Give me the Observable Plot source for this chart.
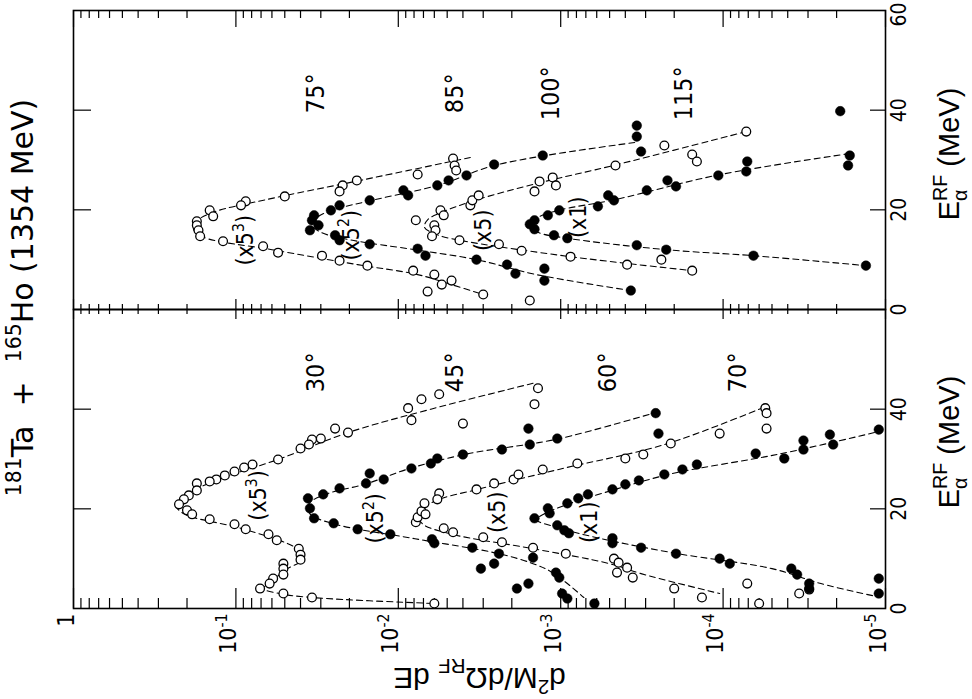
<!DOCTYPE html>
<html><head><meta charset="utf-8">
<script src="https://cdn.jsdelivr.net/npm/d3@7"></script>
<script src="https://cdn.jsdelivr.net/npm/@observablehq/plot@0.6"></script>
<style>body{margin:0;background:#fff}</style>
</head><body><div id="chart"></div>
<script>
// ---- data: [E_alpha (MeV), d2M/dOmega dE (scaled as drawn)] ----
const pts30 = [[44.2,1.38e-3],[41.0,1.45e-3],[43.0,5.6e-3],[42.0,7.2e-3],[40.2,8.7e-3],[37.8,8.3e-3],[37.1,4.0e-3],[36.1,2.45e-2],[35.3,2.04e-2],[34.1,3.0e-2],[33.9,3.4e-2],[32.9,3.55e-2],[32.1,4.0e-2],[29.9,5.5e-2],[28.9,7.9e-2],[28.3,8.9e-2],[27.5,0.102],[26.7,0.117],[25.9,0.132],[25.5,0.145],[25.1,0.174],[23.7,0.174],[22.7,0.195],[21.9,0.209],[20.9,0.224],[19.7,0.200],[18.9,0.186],[17.9,0.145],[16.9,0.102],[15.9,8.7e-2],[14.9,6.3e-2],[13.7,5.6e-2],[12.0,4.1e-2],[10.8,4.0e-2],[9.8,4.0e-2],[9.0,5.1e-2],[8.0,5.1e-2],[6.8,5.1e-2],[6.0,5.9e-2],[5.0,6.2e-2],[4.0,7.1e-2],[3.0,5.1e-2],[2.2,3.4e-2],[1.0,6.0e-3]];
const pts45 = [[22.1,3.6e-2],[20.1,3.5e-2],[18.1,3.3e-2],[22.9,2.9e-2],[24.1,2.3e-2],[25.1,1.58e-2],[27.1,1.5e-2],[25.9,1.23e-2],[28.1,8.3e-3],[29.1,6.3e-3],[30.1,5.75e-3],[30.9,4.0e-3],[31.9,2.3e-3],[32.9,1.55e-3],[34.1,1.05e-3],[36.1,1.58e-3],[39.2,2.6e-4],[35.1,2.5e-4],[17.1,2.5e-2],[15.9,1.78e-2],[14.9,1.12e-2],[13.9,6.2e-3],[13.1,6.0e-3],[12.2,3.5e-3],[11.0,2.4e-3],[10.2,1.48e-3],[9.0,2.57e-3],[8.0,3.1e-3],[7.2,1.07e-3],[6.2,1.02e-3],[5.0,1.58e-3],[4.0,1.86e-3],[3.0,9.8e-4],[2.0,9.1e-4],[1.0,6.2e-4]];
const pts60 = [[17.3,7.8e-3],[18.3,7.6e-3],[19.5,7.2e-3],[21.1,6.9e-3],[18.9,6.8e-3],[23.1,5.6e-3],[21.9,5.75e-3],[23.9,3.3e-3],[25.1,2.57e-3],[25.9,1.95e-3],[26.9,1.82e-3],[27.9,1.29e-3],[29.1,7.9e-4],[30.1,4.0e-4],[30.9,3.1e-4],[33.1,2.1e-4],[35.1,1.05e-4],[40.2,5.5e-5],[39.2,5.4e-5],[36.1,5.4e-5],[16.1,5.25e-3],[15.3,4.6e-3],[14.3,3.0e-3],[13.3,2.3e-3],[12.2,1.48e-3],[11.0,9.3e-4],[10.0,4.7e-4],[9.2,4.4e-4],[8.2,3.9e-4],[7.2,4.5e-4],[6.2,3.6e-4],[5.0,7.1e-5],[4.0,2.0e-4],[3.8,2.95e-5],[3.0,3.4e-5],[2.2,1.35e-4],[1.0,6.0e-5]];
const pts70 = [[18.1,1.45e-3],[20.1,1.2e-3],[19.1,1.17e-3],[21.1,9.1e-4],[22.1,7.8e-4],[22.9,6.8e-4],[23.9,4.8e-4],[24.9,4.0e-4],[25.7,3.3e-4],[26.9,2.3e-4],[27.9,1.78e-4],[28.9,1.45e-4],[31.1,6.3e-5],[30.1,4.2e-5],[33.7,3.2e-5],[31.9,3.2e-5],[34.9,2.2e-5],[32.9,2.1e-5],[35.9,1.1e-5],[16.7,1.05e-3],[15.7,9.5e-4],[15.1,8.9e-4],[14.1,4.8e-4],[13.1,4.8e-4],[12.2,3.2e-4],[11.0,1.95e-4],[10.0,1.05e-4],[9.0,9.1e-5],[8.0,3.8e-5],[6.8,3.5e-5],[6.0,1.1e-5],[5.0,2.95e-5],[4.0,2.95e-5],[3.0,1.1e-5]];
const pts75 = [[30.3,4.6e-3],[28.9,4.5e-3],[27.9,4.4e-3],[27.1,7.6e-3],[25.9,1.8e-2],[24.9,2.2e-2],[23.7,2.3e-2],[22.7,5.0e-2],[21.7,8.7e-2],[20.9,9.3e-2],[19.9,0.145],[18.7,0.138],[17.7,0.174],[16.9,0.174],[15.9,0.170],[14.7,0.166],[13.7,0.120],[12.7,6.8e-2],[11.4,5.5e-2],[10.8,2.95e-2],[9.8,2.3e-2],[8.8,1.55e-2],[7.8,8.1e-3],[7.0,6.0e-3],[5.8,4.7e-3],[5.0,5.4e-3],[3.6,6.6e-3],[3.0,3.0e-3],[1.8,1.55e-3]];
const pts85 = [[18.9,3.3e-2],[17.9,3.4e-2],[15.9,3.5e-2],[16.9,3.1e-2],[19.9,2.6e-2],[20.9,2.3e-2],[21.9,1.5e-2],[23.9,9.3e-3],[22.9,8.7e-3],[24.9,5.75e-3],[25.9,4.9e-3],[26.9,3.8e-3],[29.1,2.57e-3],[30.9,1.29e-3],[36.9,3.4e-4],[34.7,3.4e-4],[31.7,3.2e-4],[14.9,2.45e-2],[13.9,2.3e-2],[13.1,1.5e-2],[12.2,7.6e-3],[10.8,6.8e-3],[10.0,3.3e-3],[9.0,2.14e-3],[7.2,1.9e-3],[8.2,1.26e-3],[5.8,1.26e-3],[3.8,3.7e-4]];
const pts100 = [[17.9,7.8e-3],[16.9,6.0e-3],[15.9,5.9e-3],[14.7,6.2e-3],[19.9,5.5e-3],[18.9,5.25e-3],[20.9,3.6e-3],[21.9,3.5e-3],[22.9,3.2e-3],[23.7,1.45e-3],[25.7,1.35e-3],[26.5,1.12e-3],[24.9,1.07e-3],[28.9,4.6e-4],[32.9,2.3e-4],[31.1,1.55e-4],[29.7,1.45e-4],[35.7,7.2e-5],[13.9,4.2e-3],[13.1,2.4e-3],[11.8,1.74e-3],[10.6,8.7e-4],[9.0,3.9e-4],[10.0,2.4e-4],[7.8,1.55e-4]];
const pts115 = [[17.1,1.55e-3],[17.9,1.45e-3],[16.1,1.45e-3],[18.9,1.2e-3],[19.9,1.02e-3],[20.7,5.9e-4],[22.9,5.1e-4],[21.9,4.7e-4],[23.9,2.95e-4],[25.9,2.2e-4],[24.7,1.95e-4],[26.9,1.07e-4],[27.7,7.2e-5],[29.7,7.1e-5],[30.9,1.66e-5],[28.9,1.7e-5],[39.8,1.9e-5],[14.9,1.1e-3],[14.3,9.1e-4],[12.9,3.4e-4],[12.0,2.24e-4],[10.8,6.5e-5],[8.8,1.32e-5]];

// dashed guide curves
const fit30 = [[45.2,1.48e-3],[40,6.3e-3],[35.3,2.04e-2],[30,5.4e-2],[25.5,0.138],[22.5,0.209],[20.7,0.234],[19,0.209],[16,9.1e-2],[12,4.2e-2],[10,3.8e-2],[8,4.8e-2],[5,6.3e-2],[4,6.8e-2],[3,5.4e-2],[2.2,3.4e-2],[1,6.0e-3]];
const fit45 = [[39.5,2.5e-4],[34,1.05e-3],[31,3.8e-3],[28,8.7e-3],[25,1.58e-2],[23,2.75e-2],[21,3.55e-2],[19,3.5e-2],[17,2.5e-2],[14,7.9e-3],[11,2.4e-3],[9,1.48e-3],[7.2,1.12e-3],[2.2,7.2e-4]];
const fit60 = [[40.4,5.6e-5],[33,2.24e-4],[28,1.0e-3],[24,3.16e-3],[21.5,6.0e-3],[19,7.6e-3],[17,7.1e-3],[15,4.8e-3],[12,1.48e-3],[9,5.0e-4],[7,3.2e-4],[3,1.05e-4]];
const fit70 = [[35.3,1.17e-5],[31,4.5e-5],[27,2.1e-4],[24,4.5e-4],[21,8.9e-4],[19,1.26e-3],[17.8,1.41e-3],[16.5,1.12e-3],[14,5.6e-4],[11,1.9e-4],[8,5.0e-5],[5,2.5e-5],[2.5,1.17e-5]];
const fit75 = [[30.5,3.6e-3],[26,1.66e-2],[22,6.6e-2],[19.5,0.138],[17.5,0.178],[16,0.182],[14.5,0.158],[12,6.0e-2],[9,1.78e-2],[7,7.6e-3],[5,4.7e-3],[3,3.0e-3]];
const fit85 = [[33.5,3.5e-4],[29,2.5e-3],[25,5.6e-3],[22,1.41e-2],[20,2.5e-2],[18.5,3.16e-2],[17,3.4e-2],[15.5,3.0e-2],[14,2.0e-2],[12,7.9e-3],[10,3.3e-3],[7,1.41e-3],[3.8,3.7e-4]];
const fit100 = [[35.7,7.2e-5],[29,4.6e-4],[25.5,1.32e-3],[22,3.3e-3],[19.5,5.4e-3],[18,6.6e-3],[16.5,6.9e-3],[15,5.75e-3],[13.9,4.2e-3],[10.6,8.7e-4],[7.8,1.55e-4]];
const fit115 = [[31.3,1.66e-5],[27,1.07e-4],[22,4.7e-4],[20,1.0e-3],[18.5,1.38e-3],[17,1.58e-3],[15.5,1.38e-3],[14.3,9.1e-4],[12,2.24e-4],[10.8,6.5e-5],[8.8,1.32e-5]];

const angles   = [30, 45, 60, 70, 75, 85, 100, 115];
const panels   = ["lower","lower","lower","lower","upper","upper","upper","upper"];
const filled   = [false, true, false, true, false, true, false, true];
const ptsList  = [pts30, pts45, pts60, pts70, pts75, pts85, pts100, pts115];
const fitList  = [fit30, fit45, fit60, fit70, fit75, fit85, fit100, fit115];

// annotation texts
const angleText  = ["30°","45°","60°","70°","75°","85°","100°","115°"];
const angleLabV  = [3.2e-2, 4.5e-3, 5.1e-4, 8.1e-5, 3.2e-2, 4.5e-3, 1.15e-3, 1.74e-4];
const angleLabE  = [47.4, 47.4, 47.4, 47.4, 43.4, 43.4, 43.4, 43.4];
const multText   = ["(x5^{3})","(x5^{2})","(x5)","(x1)","(x5^{3})","(x5^{2})","(x5)","(x1)"];
const multLabV   = [7.2e-2, 1.38e-2, 2.45e-3, 6.6e-4, 8.7e-2, 1.95e-2, 3.0e-3, 7.8e-4];
const multLabE   = [22.7, 18.1, 19.3, 17.3, 13.9, 14.9, 15.9, 18.5];

const decadeTicks  = [1, 1e-1, 1e-2, 1e-3, 1e-4, 1e-5];
const decadeLabels = ["1","10^{-1}","10^{-2}","10^{-3}","10^{-4}","10^{-5}"];
const eTicksUpper  = [0, 20, 40];
const eTicksTop    = [60];
const eTicksLower  = [0, 20, 40];
const titleText  = "^{181}Ta  +  ^{165}Ho (1354 MeV)";
const yLabelText = "d^{2}M/dΩ_{RF} dE";
const xLabelText = "E^{RF}_{α} (MeV)";

// ---- build tables ----
const points = angles.flatMap((a, i) => ptsList[i].map(([E, v]) => ({angle: a, panel: panels[i], filled: filled[i], E, v})));
const fits = angles.flatMap((a, i) => fitList[i].map(([E, v]) => ({angle: a, panel: panels[i], E, v})));
const angleLabels = angles.map((a, i) => ({panel: panels[i], text: angleText[i], v: angleLabV[i], E: angleLabE[i]}));
const multLabels = angles.map((a, i) => ({panel: panels[i], text: multText[i], v: multLabV[i], E: multLabE[i]}));
const minorTicks = [];
for (let d = -5; d <= -1; d++) for (let k = 2; k <= 9; k++) minorTicks.push(k * Math.pow(10, d));

const W = 972, H = 699, mL = 73, mR = 87, mT = 10, mB = 91;
const fw = W - mL - mR, fh = (H - mT - mB) / 2;
const LAB = "'Liberation Sans Narrow','DejaVu Sans Condensed','Liberation Sans',sans-serif";
const SANS = "'Liberation Sans','DejaVu Sans',sans-serif";
const WIDE = "'DejaVu Sans','Liberation Sans',sans-serif";

function edgeTicks(panel, edge, values, len) {
  const o = {x: "v", fy: "panel", stroke: "black", strokeWidth: 1.2};
  if (edge === "top") o.insetBottom = fh - len; else o.insetTop = fh - len;
  return Plot.ruleX(values.map(v => ({v, panel})), o);
}
function eLabels(values, panel, dy) {
  return Plot.text(values.map(E => ({E, panel})), {y: "E", fy: "panel", text: d => String(d.E),
    frameAnchor: "right", dx: 14, dy, rotate: -90, textAnchor: "middle", fontSize: 21, fontFamily: LAB});
}

const chart = Plot.plot({
  width: W, height: H,
  marginLeft: mL, marginRight: mR, marginTop: mT, marginBottom: mB,
  style: {background: "white", color: "black", fontFamily: SANS},
  x: {type: "log", domain: [1e-5, 1], reverse: true, axis: null},
  y: {domain: [0, 60], axis: null},
  fy: {domain: ["upper", "lower"], padding: 0, axis: null},
  marks: [
    // log-axis ticks on each horizontal edge (pointing inward)
    edgeTicks("upper", "top", minorTicks, 8),
    edgeTicks("upper", "top", decadeTicks, 17),
    edgeTicks("upper", "bottom", minorTicks, 5),
    edgeTicks("upper", "bottom", decadeTicks, 10),
    edgeTicks("lower", "top", minorTicks, 5),
    edgeTicks("lower", "top", decadeTicks, 10),
    edgeTicks("lower", "bottom", minorTicks, 10),
    edgeTicks("lower", "bottom", decadeTicks, 20),
    // energy ticks on the vertical edges
    Plot.ruleY([20, 40], {y: d => d, insetRight: fw - 18, stroke: "black", strokeWidth: 1.2}),
    Plot.ruleY([20, 40], {y: d => d, insetLeft: fw - 15, stroke: "black", strokeWidth: 1.2}),
    Plot.frame({stroke: "black", strokeWidth: 1.6}),
    // dashed guide curves
    Plot.line(fits, {x: "v", y: "E", z: "angle", fy: "panel", curve: "catmull-rom",
      stroke: "black", strokeWidth: 1.1, strokeDasharray: "6,4"}),
    // data points
    Plot.dot(points.filter(d => !d.filled), {x: "v", y: "E", fy: "panel", r: 4.4,
      fill: "white", stroke: "black", strokeWidth: 1.3}),
    Plot.dot(points.filter(d => d.filled), {x: "v", y: "E", fy: "panel", r: 4.8,
      fill: "black", stroke: "black", strokeWidth: 0.5}),
    // labels inside panels
    Plot.text(angleLabels, {x: "v", y: "E", fy: "panel", text: "text", rotate: -90,
      textAnchor: "middle", fontSize: 25, fontFamily: LAB}),
    Plot.text(multLabels, {x: "v", y: "E", fy: "panel", text: "text", rotate: -90,
      textAnchor: "middle", fontSize: 23, fontFamily: LAB}),
    // energy tick labels
    eLabels(eTicksUpper, "upper", 0),
    eLabels(eTicksTop, "upper", 4),
    eLabels(eTicksLower, "lower", 0),
    // log tick labels
    Plot.text(decadeTicks.map((v, i) => ({v, panel: "lower", label: decadeLabels[i]})), {x: "v", fy: "panel",
      text: "label", frameAnchor: "bottom", dy: 5, rotate: -90, textAnchor: "end", fontSize: 23, fontFamily: LAB}),
    // axis titles
    Plot.text([{panel: "upper"}], {fy: "panel", text: () => xLabelText, frameAnchor: "right",
      dx: 64, dy: -6, rotate: -90, textAnchor: "middle", fontSize: 29, fontFamily: SANS}),
    Plot.text([{panel: "lower"}], {fy: "panel", text: () => xLabelText, frameAnchor: "right",
      dx: 64, dy: -17, rotate: -90, textAnchor: "middle", fontSize: 29, fontFamily: SANS}),
    Plot.text([{panel: "lower"}], {fy: "panel", text: () => yLabelText, frameAnchor: "bottom",
      dy: 59, rotate: 180, textAnchor: "middle", fontSize: 30, fontFamily: SANS}),
    Plot.text([{panel: "upper"}], {fy: "panel", text: () => titleText, frameAnchor: "bottom-left",
      dx: -41, dy: -12, rotate: -90, textAnchor: "middle", fontSize: 30, fontFamily: WIDE})
  ]
});
document.getElementById("chart").appendChild(chart);

// turn ^{..} / _{..} markup into real superscript / subscript tspans
function richify(el) {
  const raw = el.textContent;
  if (!/[\^_]\{/.test(raw)) return;
  const base = parseFloat(getComputedStyle(el).fontSize);
  const parts = raw.split(/(\^\{[^}]*\}|_\{[^}]*\})/).filter(s => s);
  el.textContent = "";
  let shift = 0, lastSup = null, stackGap = 0;
  for (const p of parts) {
    let kind = "n", txt = p;
    if (p.startsWith("^{")) { kind = "sup"; txt = p.slice(2, -1); }
    else if (p.startsWith("_{")) { kind = "sub"; txt = p.slice(2, -1); }
    const target = kind === "sup" ? -0.4 * base : kind === "sub" ? 0.3 * base : 0;
    const ts = document.createElementNS("http://www.w3.org/2000/svg", "tspan");
    ts.setAttribute("font-size", kind === "n" ? base : base * 0.68);
    ts.setAttribute("dy", target - shift);
    if (kind === "n") txt = txt.replace(/ /g, "\u00A0");
    ts.textContent = txt;
    el.appendChild(ts);
    if (kind === "sub" && lastSup) {
      const supLen = lastSup.getComputedTextLength();
      ts.setAttribute("dx", -supLen);
      stackGap = Math.max(0, supLen - ts.getComputedTextLength());
    } else if (kind === "n" && stackGap > 0) {
      ts.setAttribute("dx", stackGap);
      stackGap = 0;
    }
    lastSup = kind === "sup" ? ts : null;
    shift = target;
  }
}
d3.select(chart).selectAll("text").each(function() { richify(this); });
</script>
</body></html>
